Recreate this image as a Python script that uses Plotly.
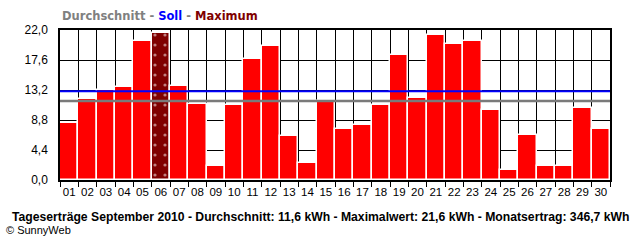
import plotly.graph_objects as go

days = [f"{i:02d}" for i in range(1, 31)]
values = [8.4, 11.9, 13.2, 13.7, 20.4, 21.6, 13.8, 11.2, 2.1, 11.0,
          17.8, 19.7, 6.5, 2.5, 11.6, 7.5, 8.1, 11.0, 18.4, 12.1,
          21.2, 20.0, 20.4, 10.2, 1.4, 6.6, 2.0, 2.0, 10.5, 7.5]
average = 11.6
target = 13.0
y_ticks = [0.0, 4.4, 8.8, 13.2, 17.6, 22.0]
y_labels = ["0,0", "4,4", "8,8", "13,2", "17,6", "22,0"]

max_val = max(values)
colors = ["#800000" if v == max_val else "#FF0000" for v in values]
shapes_pat = ["." if v == max_val else "" for v in values]

fig = go.Figure()
fig.add_trace(go.Bar(
    x=days, y=values, width=1.0,
    marker=dict(color=colors, line=dict(color="white", width=1.5),
                pattern=dict(shape=shapes_pat, fgcolor="black", bgcolor="#800000",
                             size=10, solidity=0.08)),
    hoverinfo="x+y",
))

fig.add_trace(go.Scatter(x=[0, 1], y=[average, average], mode="lines", xaxis="x2",
                         line=dict(color="#7a7a7a", width=2.5), hoverinfo="y"))
fig.add_trace(go.Scatter(x=[0, 1], y=[target, target], mode="lines", xaxis="x2",
                         line=dict(color="#0000FF", width=2), hoverinfo="y"))

fig.update_layout(
    width=640, height=240,
    margin=dict(l=60, r=30, t=30, b=60),
    paper_bgcolor="white", plot_bgcolor="white",
    showlegend=False,
    bargap=0,
    font=dict(family="Liberation Sans, Arial", size=12, color="black"),
    xaxis2=dict(overlaying="x", range=[0, 1], visible=False, showgrid=False),
)
fig.layout.xaxis.update(
    type="category", tickson="boundaries", showgrid=True, gridcolor="black", gridwidth=1,
    ticks="outside", ticklen=5, tickcolor="black", tickwidth=1,
    showline=True, linecolor="black", linewidth=1.5, mirror=True,
    tickangle=0, tickfont=dict(size=11.5), range=[-0.5, 29.5],
)
fig.update_yaxes(
    range=[0, 22.0], tickvals=y_ticks, ticktext=y_labels,
    showgrid=True, gridcolor="black", gridwidth=1, zeroline=False,
    showline=True, linecolor="black", linewidth=1.5, mirror=True,
    ticks="", ticklabelstandoff=8, tickfont=dict(size=12),
)

fig.add_annotation(
    xref="paper", yref="paper", x=0, y=1, xanchor="left", yanchor="bottom", yshift=5,
    showarrow=False,
    text="<b><span style='color:#808080'>Durchschnitt - </span>"
         "<span style='color:#0000FF'>Soll</span>"
         "<span style='color:#808080'> - </span>"
         "<span style='color:#800000'>Maximum</span></b>",
    font=dict(family="DejaVu Sans", size=11.5),
)
fig.add_annotation(
    xref="paper", yref="paper", x=0.5, y=0, xanchor="center", yanchor="top", yshift=-28,
    xshift=-15,
    showarrow=False,
    text="<b>Tageserträge September 2010 - Durchschnitt: 11,6 kWh - Maximalwert: 21,6 kWh - Monatsertrag: 346,7 kWh</b>",
    font=dict(family="Liberation Sans, Arial", size=12.2),
)
fig.add_annotation(
    xref="paper", yref="paper", x=-0.1, y=0, xanchor="left", yanchor="top", yshift=-42,
    xshift=-1,
    showarrow=False,
    text="© SunnyWeb",
    font=dict(family="Liberation Sans, Arial", size=11),
)

fig.write_html("out.html")
